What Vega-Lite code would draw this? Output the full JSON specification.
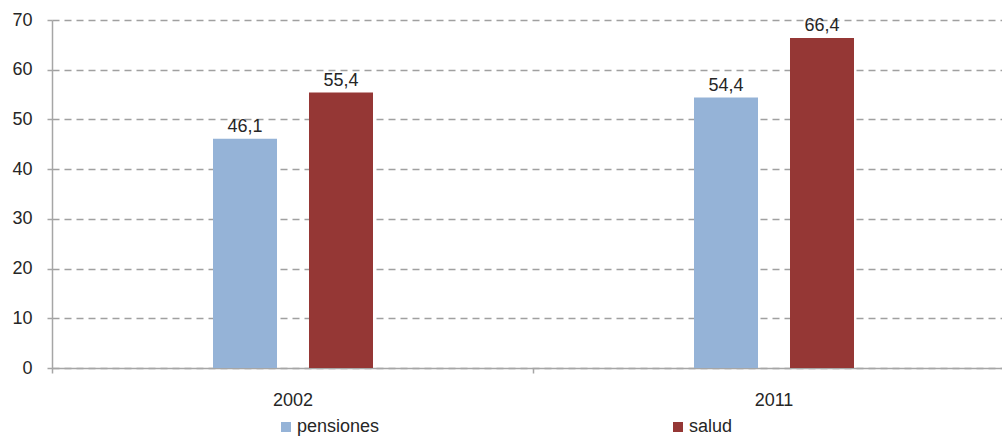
{
  "$schema": "https://vega.github.io/schema/vega-lite/v6.json",
  "autosize": {"type": "none"},
  "padding": {"left": 52, "top": 20, "right": 0, "bottom": 68},
  "width": 950,
  "height": 348,
  "background": "white",
  "config": {
    "font": "Liberation Sans",
    "view": {"stroke": null}
  },
  "data": {
    "values": [
      {"year": "2002", "serie": "pensiones", "value": 46.1, "label": "46,1"},
      {"year": "2002", "serie": "salud", "value": 55.4, "label": "55,4"},
      {"year": "2011", "serie": "pensiones", "value": 54.4, "label": "54,4"},
      {"year": "2011", "serie": "salud", "value": 66.4, "label": "66,4"}
    ]
  },
  "encoding": {
    "x": {
      "field": "year", "type": "nominal",
      "scale": {"range": [0, 962], "paddingInner": 0, "paddingOuter": 0},
      "axis": {
        "title": null, "labelAngle": 0, "labelFontSize": 18, "labelColor": "#262626",
        "domainColor": "#a6a6a6", "domainWidth": 1.5, "tickColor": "#a6a6a6", "tickWidth": 1.5,
        "tickSize": 5, "tickBand": "extent", "labelPadding": 18, "grid": false
      }
    },
    "xOffset": {
      "field": "serie", "type": "nominal",
      "scale": {"range": [161, 321], "paddingInner": 0.3333, "paddingOuter": 0}
    },
    "y": {
      "field": "value", "type": "quantitative",
      "scale": {"domain": [0, 70], "nice": false},
      "axis": {
        "title": null, "values": [0, 10, 20, 30, 40, 50, 60, 70],
        "labelFontSize": 18, "labelColor": "#262626", "labelPadding": 15,
        "domainColor": "#a6a6a6", "domainWidth": 1.5, "tickColor": "#a6a6a6", "tickWidth": 1.5, "tickSize": 5,
        "grid": true, "gridColor": "#a0a0a0", "gridWidth": 1.5, "gridDash": [7, 5]
      }
    }
  },
  "layer": [
    {
      "mark": {"type": "bar"},
      "encoding": {
        "color": {
          "field": "serie", "type": "nominal",
          "scale": {"domain": ["pensiones", "salud"], "range": ["#95B3D7", "#953735"]},
          "legend": {
            "title": null, "orient": "none", "direction": "horizontal",
            "legendX": 225, "legendY": 398,
            "symbolType": "square", "symbolSize": 100, "symbolStrokeWidth": 0,
            "labelFontSize": 18, "labelColor": "#262626", "labelOffset": 2,
            "columnPadding": 289
          }
        }
      }
    },
    {
      "mark": {"type": "text", "baseline": "bottom", "dy": -3, "fontSize": 18, "color": "#262626"},
      "encoding": {"text": {"field": "label"}}
    }
  ]
}
